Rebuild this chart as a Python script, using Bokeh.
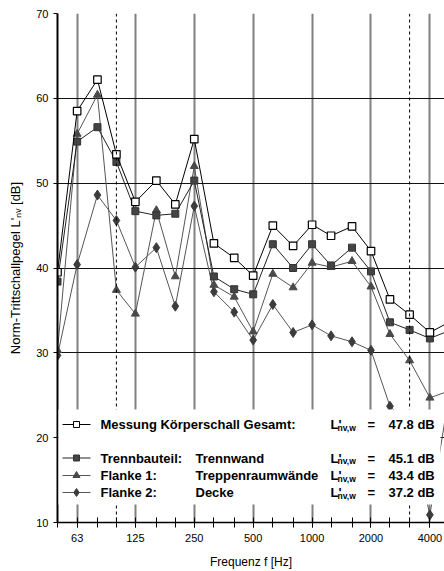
from bokeh.plotting import figure
from bokeh.models import FixedTicker, Span, Range1d
from bokeh.core.properties import value
from bokeh.embed import file_html
from bokeh.resources import INLINE

# ---- data (1/3-octave bands) ----
freq = [50, 63, 80, 100, 125, 160, 200, 250, 315, 400, 500, 630, 800, 1000,
        1250, 1600, 2000, 2500, 3150, 4000, 5000]
total = [39.5, 58.5, 62.2, 53.4, 47.8, 50.3, 47.5, 55.2, 42.9, 41.2, 39.1, 45.0,
         42.6, 45.1, 43.8, 44.9, 42.0, 36.3, 34.5, 32.4, 33.6]
trenn = [38.4, 54.9, 56.6, 52.5, 46.7, 46.2, 46.4, 50.3, 39.0, 37.5, 36.9, 42.8,
         40.0, 42.8, 40.3, 42.4, 39.6, 33.6, 32.7, 31.7, 32.6]
flanke1 = [30.3, 55.8, 60.4, 37.4, 34.6, 46.8, 39.0, 52.0, 38.0, 36.6, 32.5, 39.3,
           37.7, 40.6, 40.1, 40.8, 37.8, 32.2, 29.1, 24.7, 25.5]
flanke2 = [29.7, 40.4, 48.6, 45.6, 40.1, 42.4, 35.5, 47.3, 37.2, 34.8, 31.5, 35.7,
           32.4, 33.3, 32.0, 31.3, 30.3, 23.7, 21.5, 10.9, 25.0]

band_ticks = freq
label_ticks = [63, 125, 250, 500, 1000, 2000, 4000]
label_text = ["63", "125", "250", "500", "1000", "2000", "4000"]
y_ticks = [10, 20, 30, 40, 50, 60, 70]
y_grid = [20, 30, 40, 50, 60, 70]
dashed_freqs = [100, 3150]

legend_names = ["Messung Körperschall Gesamt:", "Trennbauteil:", "Flanke 1:", "Flanke 2:"]
legend_parts = ["", "Trennwand", "Treppenraumwände", "Decke"]
legend_values = ["47.8 dB", "45.1 dB", "43.4 dB", "37.2 dB"]

FONT = "Liberation Sans"
X_START, X_END = 50, 4750
Y_START, Y_END = 10, 70

# frame placement on page (px): left 57, right 444, top 13, bottom 522
FL, FR, FT, FB = 57, 444, 13, 522
W, H = 444, 571


def fx(px):
    return X_START * (X_END / X_START) ** ((px - FL) / (FR - FL))


def fy(py):
    return Y_END - (py - FT) * (Y_END - Y_START) / (FB - FT)


p = figure(width=W, height=H, x_axis_type="log",
           x_range=Range1d(X_START, X_END), y_range=Range1d(Y_START, Y_END),
           output_backend="svg", toolbar_location=None,
           min_border_left=FL, min_border_right=W - FR,
           min_border_top=FT, min_border_bottom=H - FB)
p.outline_line_color = None
p.background_fill_color = "white"

# axes
xa = p.xaxis[0]
xa.ticker = FixedTicker(ticks=label_ticks, minor_ticks=band_ticks)
xa.major_label_overrides = {t: s for t, s in zip(label_ticks, label_text)}
xa.axis_line_color = "black"
xa.axis_line_width = 1.5
xa.major_tick_in = 0
xa.major_tick_out = 5
xa.major_tick_line_color = "black"
xa.minor_tick_in = 5
xa.minor_tick_out = 5
xa.minor_tick_line_color = "black"
xa.major_label_text_font = FONT
xa.major_label_text_font_size = "11px"
xa.major_label_text_color = "black"
xa.major_label_standoff = 6
xa.axis_label = "Frequenz f [Hz]"
xa.axis_label_text_font = FONT
xa.axis_label_text_font_size = "12px"
xa.axis_label_text_font_style = "normal"
xa.axis_label_text_color = "black"
xa.axis_label_standoff = 10

ya = p.yaxis[0]
ya.ticker = FixedTicker(ticks=y_ticks, minor_ticks=[])
ya.axis_line_color = "black"
ya.axis_line_width = 2
ya.major_tick_in = 0
ya.major_tick_out = 4
ya.major_tick_line_color = "black"
ya.minor_tick_in = 0
ya.minor_tick_out = 0
ya.major_label_text_font = FONT
ya.major_label_text_font_size = "11px"
ya.major_label_text_color = "black"
ya.major_label_standoff = 5
ya.axis_label = "Norm-Trittschallpegel L'\u2099\u1d65 [dB]"
ya.axis_label_text_font = FONT
ya.axis_label_text_font_size = "13px"
ya.axis_label_text_font_style = "normal"
ya.axis_label_text_color = "black"
ya.axis_label_standoff = 10

# grids
p.xgrid.ticker = FixedTicker(ticks=label_ticks)
p.xgrid.grid_line_color = "#808080"
p.xgrid.grid_line_width = 2
p.ygrid.ticker = FixedTicker(ticks=y_grid)
p.ygrid.grid_line_color = "#111111"
p.ygrid.grid_line_width = 1

for f in dashed_freqs:
    p.add_layout(Span(location=f, dimension="height", line_color="black",
                      line_width=1, line_dash="3 3"))

# series
p.line(freq, flanke2, line_color="#555555", line_width=1)
p.scatter(freq, flanke2, marker="diamond", size=10, fill_color="#3c3c3c",
          line_color="#3c3c3c")
p.line(freq, flanke1, line_color="#555555", line_width=1)
p.scatter(freq, flanke1, marker="triangle", size=8, fill_color="#4a4a4a",
          line_color="#4a4a4a")
p.line(freq, trenn, line_color="#222222", line_width=1)
p.scatter(freq, trenn, marker="square", size=7, fill_color="#444444",
          line_color="#333333")
p.line(freq, total, line_color="black", line_width=1)
p.scatter(freq, total, marker="square", size=7.5, fill_color="white",
          line_color="black", line_width=1.2)

# custom legend (white box over plot)
p.quad(left=[fx(58)], right=[fx(440)], top=[fy(409)], bottom=[fy(504)],
       fill_color="white", line_color=None, level="overlay")

rows_y = [424, 457.5, 475, 492]
markers = ["square", "square", "triangle", "diamond"]
mfill = ["white", "#444444", "#4a4a4a", "#3c3c3c"]
mline = ["black", "#333333", "#4a4a4a", "#3c3c3c"]
lcol = ["black", "#222222", "#555555", "#555555"]
msize = [6, 6, 7, 8]
for i, ry in enumerate(rows_y):
    p.line([fx(62), fx(90)], [fy(ry), fy(ry)], line_color=lcol[i], line_width=1,
           level="overlay")
    p.scatter([fx(76)], [fy(ry)], marker=markers[i], size=msize[i],
              fill_color=mfill[i], line_color=mline[i], level="overlay")

common = dict(text_font=value(FONT), text_font_style="bold", text_font_size="13px",
              text_color="black", text_baseline="middle", text_align="left",
              level="overlay")
p.text(x=[fx(100)] * 4, y=[fy(r) for r in rows_y], text=legend_names, **common)
p.text(x=[fx(195)] * 4, y=[fy(r) for r in rows_y], text=legend_parts, **common)
p.text(x=[fx(330)] * 4, y=[fy(r) for r in rows_y], text=["L'"] * 4, **common)
p.text(x=[fx(367)] * 4, y=[fy(r) for r in rows_y], text=["="] * 4, **common)
p.text(x=[fx(388)] * 4, y=[fy(r) for r in rows_y], text=legend_values, **common)
sub = dict(common)
sub["text_font_size"] = "8.5px"
p.text(x=[fx(337)] * 4, y=[fy(r + 3) for r in rows_y], text=["nv,w"] * 4, **sub)

open("out.html", "w").write(file_html(p, INLINE))
